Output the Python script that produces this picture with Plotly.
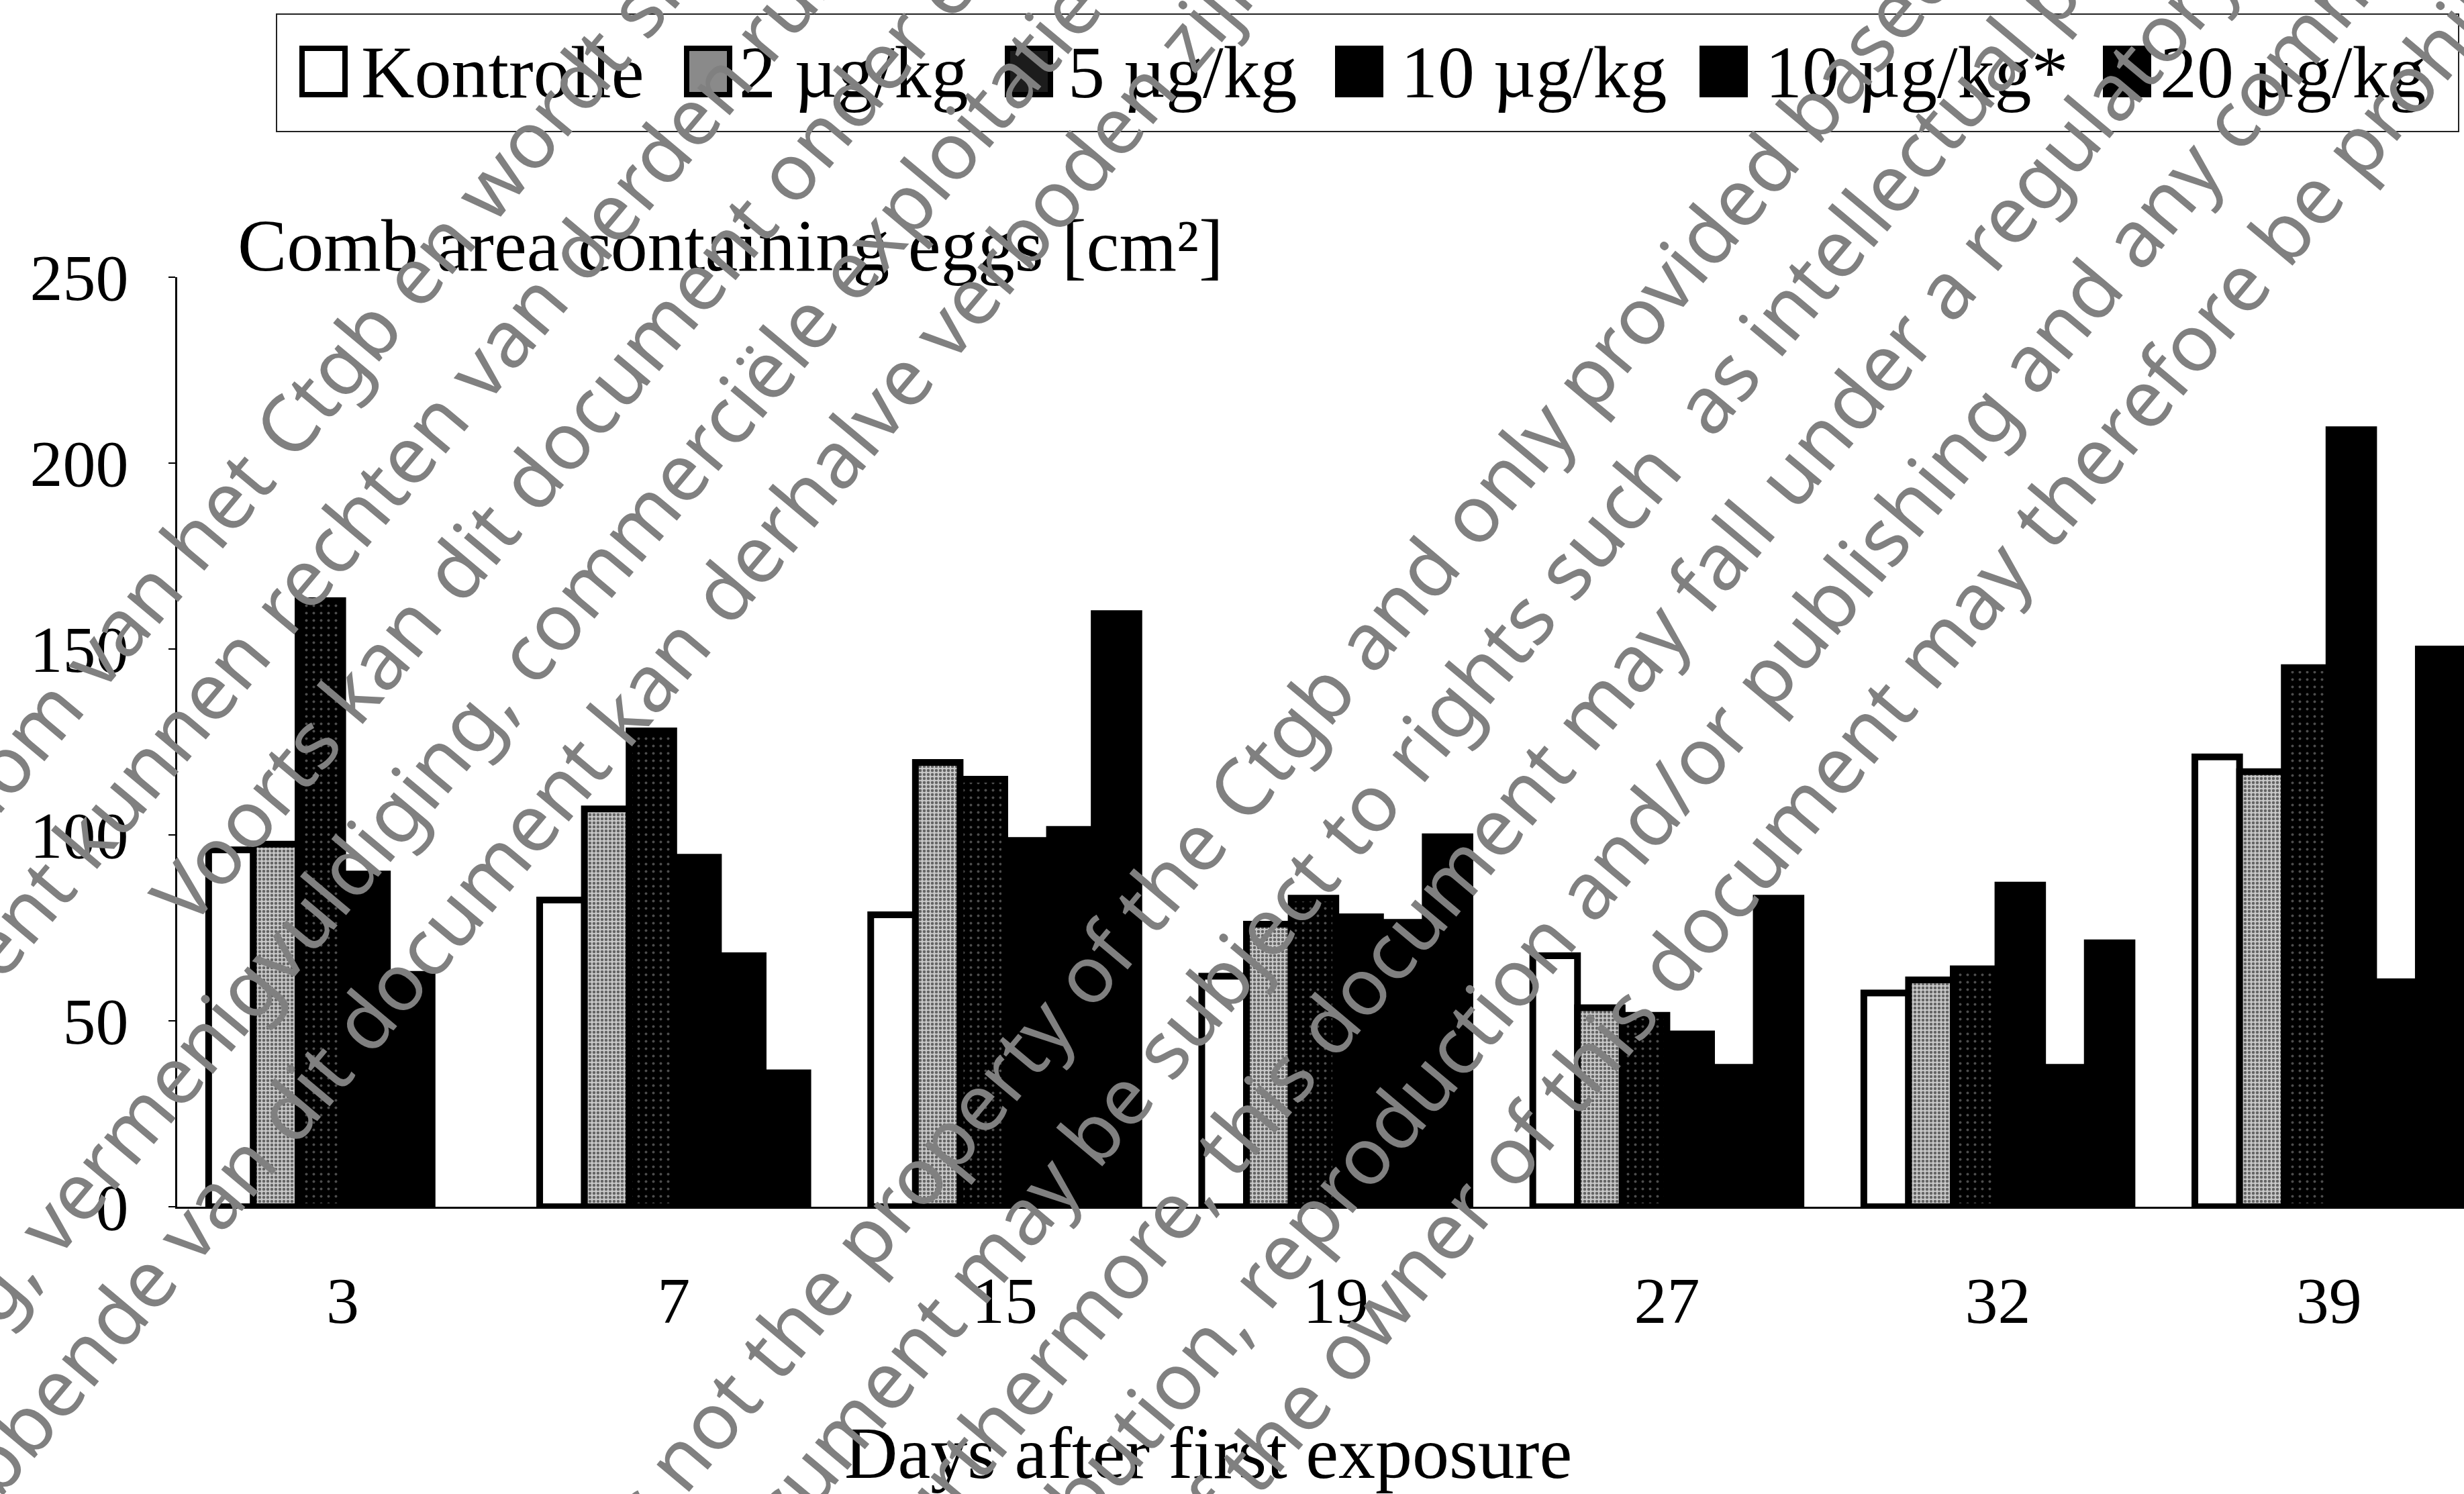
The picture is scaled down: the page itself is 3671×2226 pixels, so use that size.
import math
import plotly.graph_objects as go

# ---------------- data ----------------
days = ["3", "7", "15", "19", "27", "32", "39"]
series_names = ["Kontrolle", "2 µg/kg", "5 µg/kg", "10 µg/kg", "10 µg/kg*", "20 µg/kg"]
kontrolle = [96, 82.5, 78.5, 62, 67.5, 57.5, 121]
dose_2 = [97.5, 107, 119.5, 76, 53.5, 61, 117]
dose_5 = [163, 128, 115, 83, 51.5, 64, 145]
dose_10 = [89.5, 94, 98.5, 78, 46.5, 86.5, 209]
dose_10s = [62.5, 67.5, 101.5, 76.5, 37.5, 37.5, 60.5]
dose_20 = [None, 36, 159.5, 99.5, 83, 71, 150]
y_ticks = [0, 50, 100, 150, 200, 250]

title_text = "Comb area containing eggs [cm²]"
xaxis_title = "Days after first exposure"

W, H = 3671, 2226
FONT = "Liberation Serif, Times New Roman, serif"

values = [kontrolle, dose_2, dose_5, dose_10, dose_10s, dose_20]
styles = [
    dict(color="white"),
    dict(color="#b8b8b8", pattern=dict(shape=".", fgcolor="black", bgcolor="#c8c8c8", size=6, solidity=0.45)),
    dict(color="black", pattern=dict(shape=".", fgcolor="#9a9a9a", bgcolor="black", size=11, solidity=0.1)),
    dict(color="black"),
    dict(color="black"),
    dict(color="black"),
]

fig = go.Figure()
for name, vals, st in zip(series_names, values, styles):
    marker = dict(st)
    marker["line"] = dict(color="black", width=10)
    fig.add_trace(go.Bar(x=days, y=vals, name=name, marker=marker, showlegend=False))

# plot area in pixels
x_left, y_top, y_bot = 264, 413, 1798
px_per_cat = 493.2
x_end = -0.5 + (W - x_left) / px_per_cat

fig.update_layout(
    width=W, height=H,
    margin=dict(l=0, r=0, t=0, b=0, autoexpand=False),
    paper_bgcolor="white", plot_bgcolor="white", showlegend=False,
    barmode="group", bargap=0.19, bargroupgap=0,
    font=dict(family=FONT, color="black", size=98),
    xaxis=dict(
        domain=[x_left / W, 1], type="category", categoryorder="array", categoryarray=days,
        range=[-0.5, x_end], showline=True, linecolor="black", linewidth=3,
        ticks="", showgrid=False, zeroline=False, automargin=False,
        tickfont=dict(family=FONT, size=98, color="black"), ticklabelstandoff=52,
    ),
    yaxis=dict(
        domain=[1 - y_bot / H, 1 - y_top / H], range=[0, 250], tickvals=y_ticks,
        showline=True, linecolor="black", linewidth=3, ticks="outside", ticklen=10,
        tickwidth=2, tickcolor="black", showgrid=False, zeroline=False, automargin=False,
        tickfont=dict(family=FONT, size=98, color="black"), ticklabelstandoff=40,
    ),
)

ann = []
shapes = []
# chart title (inside plot, top-left) and x-axis title
ann.append(dict(text=title_text, x=352 / W, y=1 - 366 / H, xref="paper", yref="paper",
                xanchor="left", yanchor="middle", showarrow=False,
                font=dict(family=FONT, size=110, color="black")))
ann.append(dict(text=xaxis_title, x=1800 / W, y=1 - 2165 / H, xref="paper", yref="paper",
                xanchor="center", yanchor="middle", showarrow=False,
                font=dict(family=FONT, size=110, color="black")))

# manual legend
shapes.append(dict(type="rect", xref="paper", yref="paper", x0=412 / W, x1=3663 / W,
                   y0=1 - 196 / H, y1=1 - 21 / H, line=dict(color="#222", width=2),
                   fillcolor="rgba(0,0,0,0)"))
sw_x = [446, 1019, 1497, 1989, 2532, 3133]
txt_x = [536, 1099, 1589, 2085, 2628, 3216]
sw_fill = ["white", "#8a8a8a", "#1c1c1c", "black", "black", "black"]
for name, sx, tx, fc in zip(series_names, sw_x, txt_x, sw_fill):
    shapes.append(dict(type="rect", xref="paper", yref="paper", x0=(sx + 4) / W, x1=(sx + 68) / W,
                       y0=1 - 141 / H, y1=1 - 72 / H, line=dict(color="black", width=8),
                       fillcolor=fc))
    ann.append(dict(text=name, x=tx / W, y=1 - 108 / H, xref="paper", yref="paper",
                    xanchor="left", yanchor="middle", showarrow=False,
                    font=dict(family=FONT, size=110, color="black")))

# watermark (diagonal grey text)
wm_lines = [
    ("Dit document is geen eigendom van het Ctgb en wordt slechts ter beschikking gesteld op basis van een wettelijke verplichting.", "Ctgb", (468, 554), 734),
    ("Op dit document kunnen rechten van derden rusten, zoals intellectuele eigendomsrechten en auteursrechten.", "rechten", (554, 767), 898),
    ("Voorts kan dit document onder een regime van bescherming van gegevens vallen.", "dit", (717, 809), 1062),
    ("Openbaarmaking, vermenigvuldiging, commerciële exploitatie of elk ander gebruik van dit document", "commerciële", (994, 738), 1226),
    ("zonder toestemming van de rechthebbende van dit document kan derhalve verboden zijn.", "derhalve", (1200, 703), 1390),
    ("This document is not the property of the Ctgb and only provided based on a regulatory obligation.", "Ctgb", (1885, 1093), 2170),
    ("This document may be subject to rights such  as intellectual property and copyrights of third parties.", "rights", (2197, 994), 2330),
    ("Furthermore, this document may fall under a regulatory data protection regime.", "under", (2751, 625), 2495),
    ("Consequently, any distribution, reproduction and/or publishing and any commercial exploitation of this document", "publishing", (2808, 795), 2660),
    ("without the permission of the owner of this document may therefore be prohibited and violate the rights of its owner.", "therefore", (3191, 568), 2825),
]
ang = 50.0
WM_SIZE = 118
cw = 0.54 * WM_SIZE
sp = 0.26 * WM_SIZE
hbox = 1.362 * WM_SIZE + 4
c, s = math.cos(math.radians(ang)), math.sin(math.radians(ang))
wm_font = dict(family="Noto Sans", size=WM_SIZE, color="rgb(128,128,128)")
for text, anchor, (px, py), dt in wm_lines:
    dp = px * s + py * c
    Px, Py = px + (dt - dp) * s, py + (dt - dp) * c
    half = len(anchor) / 2 * cw
    Sx, Sy = Px - half * c, Py + half * s
    i = text.index(anchor)
    part_a, part_b = text[:i].rstrip(), text[i:]
    bx, by = Sx - (hbox / 2) * s, Sy + (hbox / 2) * c
    ann.append(dict(text=part_b, x=bx / W, y=1 - by / H, xref="paper", yref="paper",
                    xanchor="left", yanchor="bottom", showarrow=False, textangle=-ang,
                    font=wm_font))
    if part_a:
        Ex, Ey = Sx - sp * c, Sy + sp * s
        ax, ay = Ex + (hbox / 2) * s, Ey - (hbox / 2) * c
        ann.append(dict(text=part_a, x=ax / W, y=1 - ay / H, xref="paper", yref="paper",
                        xanchor="right", yanchor="top", showarrow=False, textangle=-ang,
                        font=wm_font))

fig.update_layout(annotations=ann, shapes=shapes)
fig.write_html("out.html")
